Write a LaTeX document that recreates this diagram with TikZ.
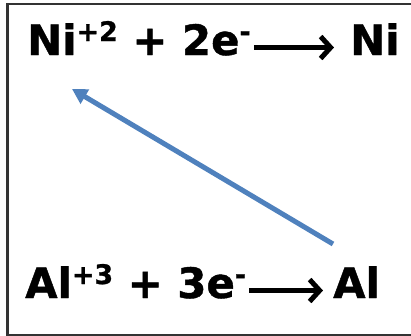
\documentclass[tikz,border=0pt]{standalone}
\usepackage{fontspec}
\setmainfont{DejaVu Sans}[BoldFeatures={FakeBold=1}]
\usetikzlibrary{arrows.meta,calc}
\definecolor{officeblue}{HTML}{4F81BD}
\definecolor{framegray}{HTML}{333333}
\newcommand{\supx}[1]{\raisebox{14bp}{\fontsize{27}{27}\selectfont\bfseries #1}}
\tikzset{
  eqtext/.style={inner sep=0pt, font=\fontsize{42}{42}\selectfont\bfseries},
  rxarrow/.style={line width=5bp, -{Straight Barb[length=10bp,width=22bp,line width=5bp]}},
  bluearrow/.style={officeblue, line width=5bp, -{Triangle[length=15bp,width=16bp]}}
}
\begin{document}
\begin{tikzpicture}[x=1bp,y=-1bp]
\useasboundingbox (0,0) rectangle (411,336);
\clip (0,0) rectangle (411,336);
\draw[framegray, line width=2bp] (7.5,3.5) rectangle (420,334.5);
% top equation
\node[eqtext, anchor=base west] (nileft) at (27,55) {Ni\supx{+2} + 2e\supx{-}};
\node[eqtext, anchor=base west] (niright) at (350,55) {Ni};
\draw[rxarrow] ($(nileft.base east)+(3,-7.5)$) -- ($(niright.base west)+(-16,-7.5)$);
% bottom equation
\node[eqtext, anchor=base west] (alleft) at (25,298) {Al\supx{+3} + 3e\supx{-}};
\node[eqtext, anchor=base west] (alright) at (333,298) {Al};
\draw[rxarrow] ($(alleft.base east)+(3,-7.5)$) -- ($(alright.base west)+(-10,-7.5)$);
% blue arrow
\coordinate (bstart) at (333,244);
\coordinate (bend) at (72,89);
\draw[bluearrow] (bstart) -- (bend);
\end{tikzpicture}
\end{document}
